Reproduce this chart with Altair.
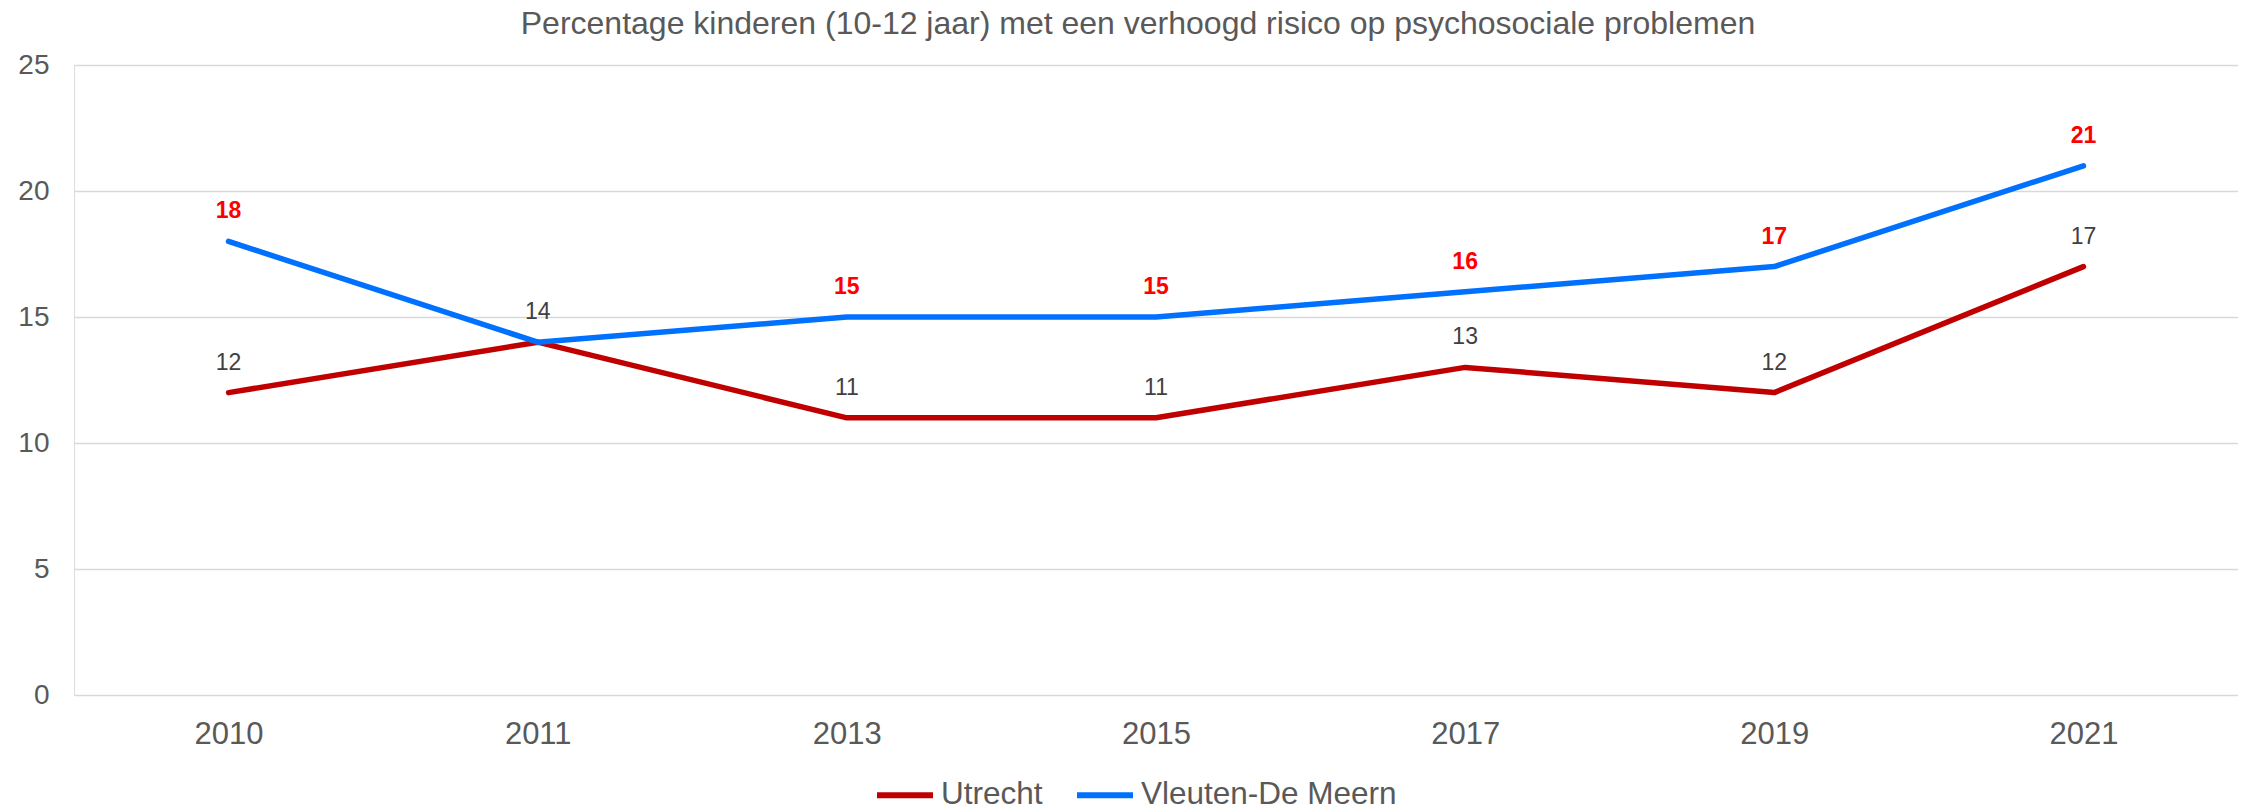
import altair as alt
import pandas as pd

years = ["2010", "2011", "2013", "2015", "2017", "2019", "2021"]
utrecht = [12, 14, 11, 11, 13, 12, 17]
vleuten = [18, 14, 15, 15, 16, 17, 21]
vleuten_label_shown = [True, False, True, True, True, True, True]
series = ["Utrecht", "Vleuten-De Meern"]
colors = ["#C00000", "#0070FF"]
title_text = "Percentage kinderen (10-12 jaar) met een verhoogd risico op psychosociale problemen"

rows = []
for i, yr in enumerate(years):
    rows.append({"jaar": yr, "gebied": series[0], "pct": utrecht[i], "show": True})
    rows.append({"jaar": yr, "gebied": series[1], "pct": vleuten[i], "show": vleuten_label_shown[i]})
df = pd.DataFrame(rows)

FONT = "Liberation Sans"

x = alt.X(
    "jaar:N", sort=years,
    scale=alt.Scale(type="point", padding=0.5),
    axis=alt.Axis(title=None, labelAngle=0, ticks=False, tickSize=0, domain=False, grid=False,
                  labelFontSize=31, labelColor="#595959", labelPadding=24, labelFont=FONT),
)
y = alt.Y(
    "pct:Q",
    scale=alt.Scale(domain=[0, 25], nice=False),
    axis=alt.Axis(title=None, values=[0, 5, 10, 15, 20, 25], ticks=False, tickSize=0, domain=False,
                  grid=True, gridColor="#D9D9D9", gridWidth=1.5,
                  labelFontSize=28, labelColor="#595959", labelPadding=25, labelFont=FONT),
)
color = alt.Color(
    "gebied:N",
    scale=alt.Scale(domain=series, range=colors),
    legend=alt.Legend(title=None, orient="none", legendX=800, legendY=699, direction="horizontal",
                      symbolType="stroke", symbolSize=3136, symbolStrokeWidth=6,
                      labelFontSize=31.5, labelColor="#595959", labelFont=FONT, labelLimit=0,
                      columnPadding=22, labelOffset=5),
)

base = alt.Chart(df)
lines = base.mark_line(strokeWidth=5.5, strokeCap="round", strokeJoin="round").encode(x=x, y=y, color=color)

t_utr = base.transform_filter(alt.datum.gebied == series[0]).mark_text(
    dy=-23, baseline="alphabetic", fontSize=23, color="#404040", font=FONT
).encode(x=x, y=y, text="pct:Q")

t_vl = base.transform_filter((alt.datum.gebied == series[1]) & alt.datum.show).mark_text(
    dy=-23, baseline="alphabetic", fontSize=23, fontWeight="bold", color="#FF0000", font=FONT
).encode(x=x, y=y, text="pct:Q")

chart = alt.layer(lines, t_utr, t_vl).properties(
    width=2164, height=630,
    padding={"left": 66, "top": 57, "right": 0, "bottom": 121},
    autosize=alt.AutoSizeParams(type="none"),
    title=alt.TitleParams(title_text, fontSize=32, font=FONT, fontWeight="normal", color="#595959",
                          anchor="middle", dx=-18, offset=10),
).configure_view(stroke=None).configure(font=FONT)

chart.save("out.html", embed_options={"renderer": "svg", "actions": False})
